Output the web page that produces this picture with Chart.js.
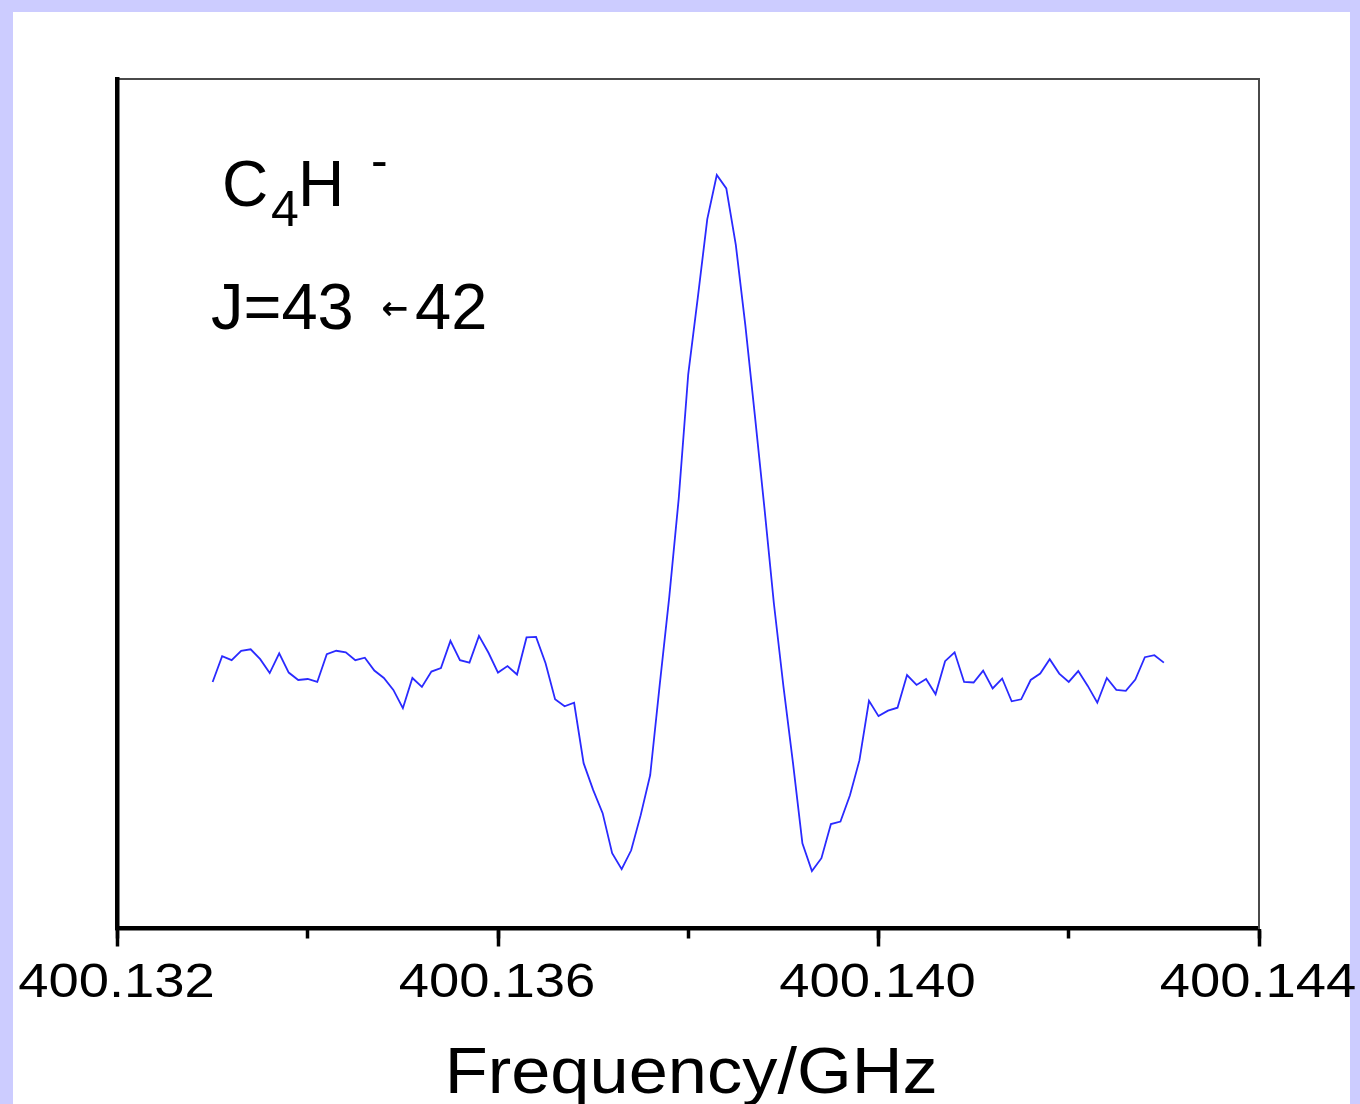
<!DOCTYPE html>
<html>
<head>
<meta charset="utf-8">
<title>C4H- J=43-42</title>
<script src="https://cdn.jsdelivr.net/npm/chart.js"></script>
<style>
    html, body { margin: 0; padding: 0; }
    body { background: #ccccff; width: 1360px; height: 1104px; overflow: hidden; position: relative; }
    .panel { position: absolute; left: 13px; top: 12px; width: 1337px; height: 1092px; background: #fff; }
    #spectrum { position: absolute; left: 0; top: 0; }
</style>
</head>
<body>
<div class="panel"></div>
<canvas id="spectrum" width="1360" height="1104"></canvas>

<script>
// frequency grid (GHz)
const frequencies = [
    400.1330, 400.1331, 400.1332, 400.1333, 400.1334, 400.1335, 400.1336, 400.1337, 400.1338, 400.1339,
    400.1340, 400.1341, 400.1342, 400.1343, 400.1344, 400.1345, 400.1346, 400.1347, 400.1348, 400.1349,
    400.1350, 400.1351, 400.1352, 400.1353, 400.1354, 400.1355, 400.1356, 400.1357, 400.1358, 400.1359,
    400.1360, 400.1361, 400.1362, 400.1363, 400.1364, 400.1365, 400.1366, 400.1367, 400.1368, 400.1369,
    400.1370, 400.1371, 400.1372, 400.1373, 400.1374, 400.1375, 400.1376, 400.1377, 400.1378, 400.1379,
    400.1380, 400.1381, 400.1382, 400.1383, 400.1384, 400.1385, 400.1386, 400.1387, 400.1388, 400.1389,
    400.1390, 400.1391, 400.1392, 400.1393, 400.1394, 400.1395, 400.1396, 400.1397, 400.1398, 400.1399,
    400.1400, 400.1401, 400.1402, 400.1403, 400.1404, 400.1405, 400.1406, 400.1407, 400.1408, 400.1409,
    400.1410, 400.1411, 400.1412, 400.1413, 400.1414, 400.1415, 400.1416, 400.1417, 400.1418, 400.1419,
    400.1420, 400.1421, 400.1422, 400.1423, 400.1424, 400.1425, 400.1426, 400.1427, 400.1428, 400.1429,
    400.1430
];

// normalised line intensity (peak = 1)
const intensity = [
    -0.024, 0.028, 0.020, 0.039, 0.042, 0.022, -0.006, 0.034, -0.005, -0.020,
    -0.018, -0.024, 0.032, 0.039, 0.036, 0.020, 0.025, -0.001, -0.016, -0.040,
    -0.077, -0.016, -0.034, -0.003, 0.004, 0.059, 0.020, 0.015, 0.069, 0.035,
    -0.005, 0.008, -0.009, 0.066, 0.067, 0.014, -0.059, -0.073, -0.066, -0.188,
    -0.242, -0.289, -0.370, -0.402, -0.364, -0.293, -0.212, -0.030, 0.147, 0.347,
    0.598, 0.752, 0.911, 1.000, 0.973, 0.859, 0.697, 0.515, 0.329, 0.135,
    -0.032, -0.186, -0.350, -0.406, -0.380, -0.311, -0.306, -0.253, -0.182, -0.062,
    -0.093, -0.082, -0.076, -0.010, -0.030, -0.018, -0.049, 0.018, 0.036, -0.024,
    -0.025, -0.001, -0.037, -0.017, -0.063, -0.059, -0.020, -0.007, 0.022, -0.007,
    -0.024, -0.002, -0.032, -0.066, -0.016, -0.040, -0.042, -0.019, 0.026, 0.030,
    0.015
];

const freqMin = 400.132;
const freqMax = 400.144;
const majorStep = 0.004;
const minorStep = 0.002;
const yMin = -0.522;
const yMax = 1.194;

const axisTitle = "Frequency/GHz";
const speciesLabel = { base: "C", sub: "4", tail: "H", charge: "-" };
const transitionLabel = { upper: "J=43", arrow: "\u2190", lower: "42" };

const points = frequencies.map((f, i) => ({ x: f, y: intensity[i] }));

const noSize = s => { if (s.isHorizontal()) s.height = 0; else s.width = 0; };

// axis numbers, axis title and the species / transition annotation
const textLayer = {
    id: 'textLayer',
    afterDraw(chart) {
        const { ctx } = chart;
        const xs = chart.scales.x;
        ctx.save();
        ctx.fillStyle = '#000';
        ctx.textBaseline = 'alphabetic';

        ctx.font = '49px "Liberation Sans", Arial, sans-serif';
        ctx.textAlign = 'center';
        xs.ticks.forEach(t => {
            const px = xs.getPixelForValue(t.value);
            ctx.save();
            ctx.translate(px - 1, 996.5);
            ctx.scale(1.11, 1);
            ctx.fillText(t.value.toFixed(3), 0, 0);
            ctx.restore();
        });

        ctx.font = '64px "Liberation Sans", Arial, sans-serif';
        ctx.save();
        ctx.translate((chart.chartArea.left + chart.chartArea.right) / 2 + 3, 1093);
        ctx.scale(1.1, 1);
        ctx.fillText(axisTitle, 0, 0);
        ctx.restore();

        ctx.textAlign = 'left';
        ctx.font = '64px "Liberation Sans", Arial, sans-serif';
        ctx.fillText(speciesLabel.base, 222, 206);
        ctx.fillText(speciesLabel.tail, 298, 206);
        ctx.font = '50px "Liberation Sans", Arial, sans-serif';
        ctx.fillText(speciesLabel.sub, 271, 226);
        ctx.fillText(speciesLabel.charge, 371, 177);

        ctx.font = '65px "Liberation Sans", Arial, sans-serif';
        ctx.fillText(transitionLabel.upper, 211, 329);
        ctx.fillText(transitionLabel.lower, 415, 329);
        ctx.font = 'bold 32px "DejaVu Sans", sans-serif';
        ctx.textAlign = 'center';
        ctx.textBaseline = 'middle';
        ctx.fillText(transitionLabel.arrow, 395, 311);
        ctx.restore();
    }
};

new Chart(document.getElementById('spectrum'), {
    type: 'line',
    data: {
        datasets: [{
            data: points,
            borderColor: '#2a2aff',
            borderWidth: 1.8,
            pointRadius: 0,
            tension: 0,
            fill: false
        }]
    },
    options: {
        responsive: false,
        animation: false,
        events: [],
        layout: { padding: { left: 117.5, right: 101, top: 79, bottom: 175.5 } },
        plugins: { legend: { display: false }, tooltip: { enabled: false } },
        scales: {
            x: {
                type: 'linear',
                position: 'bottom',
                min: freqMin,
                max: freqMax,
                afterFit: noSize,
                ticks: { stepSize: majorStep, display: false },
                grid: { drawOnChartArea: false, drawTicks: true, tickLength: 18, tickWidth: 3.5, tickColor: '#000' },
                border: { display: true, color: '#000', width: 4.5 }
            },
            xMinor: {
                type: 'linear',
                position: 'bottom',
                min: freqMin,
                max: freqMax,
                afterFit: noSize,
                ticks: { stepSize: minorStep, display: false },
                grid: { drawOnChartArea: false, drawTicks: true, tickLength: 10, tickWidth: 3.5, tickColor: '#000' },
                border: { display: false }
            },
            xTop: {
                type: 'linear',
                position: 'top',
                min: freqMin,
                max: freqMax,
                afterFit: noSize,
                ticks: { display: false },
                grid: { display: false },
                border: { display: true, color: '#4a4a4a', width: 2 }
            },
            y: {
                position: 'left',
                min: yMin,
                max: yMax,
                afterFit: noSize,
                ticks: { display: false },
                grid: { display: false },
                border: { display: true, color: '#000', width: 4.5 }
            },
            yRight: {
                position: 'right',
                min: yMin,
                max: yMax,
                afterFit: noSize,
                ticks: { display: false },
                grid: { display: false },
                border: { display: true, color: '#4a4a4a', width: 2 }
            }
        }
    },
    plugins: [textLayer]
});
</script>
</body>
</html>
